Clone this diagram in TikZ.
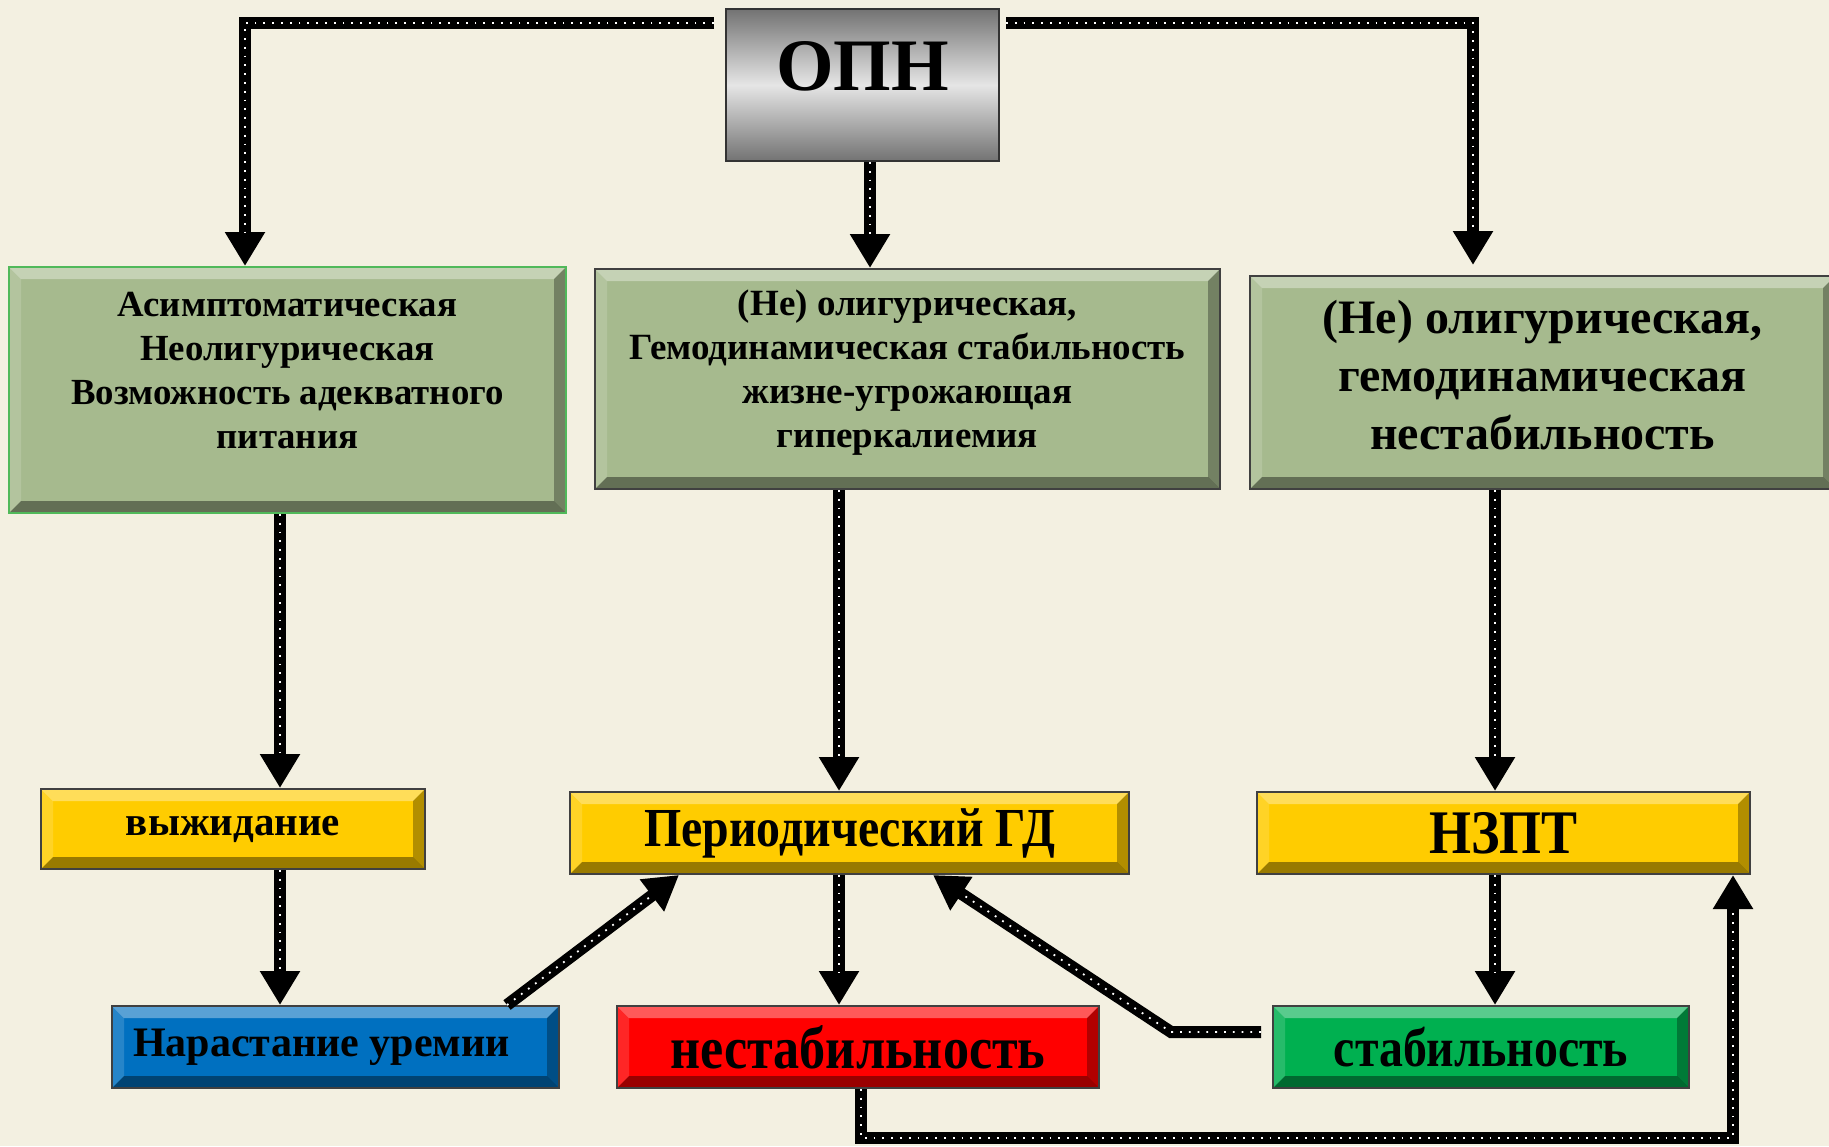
\documentclass[tikz,border=0pt]{standalone}
\usepackage{fontspec}
\setmainfont{Liberation Serif}
\newfontfamily\narrowfont[FakeStretch=0.87]{Liberation Serif}
\usetikzlibrary{arrows.meta,positioning}

\definecolor{bgcream}{RGB}{243,240,225}
\definecolor{boxgreen}{RGB}{166,186,142}
\definecolor{edgegreen}{RGB}{80,185,90}
\definecolor{boxyellow}{RGB}{255,204,0}
\definecolor{boxblue}{RGB}{0,112,192}
\definecolor{boxred}{RGB}{255,0,0}
\definecolor{boxlime}{RGB}{0,176,80}

\begin{document}
\begin{tikzpicture}[x=0.5pt,y=0.5pt]
\tikzstyle{every node}+=[inner sep=2pt]
\tikzstyle{bevel}=[path picture={
  \path (path picture bounding box.south west) coordinate (bsw)
        (path picture bounding box.north east) coordinate (bne)
        (path picture bounding box.north west) coordinate (bnw)
        (path picture bounding box.south east) coordinate (bse);
  \fill [white,opacity=0.35] (bnw) -- (bne) -- ([shift={(-6pt,-6pt)}]bne) -- ([shift={(6pt,-6pt)}]bnw) -- cycle;
  \fill [white,opacity=0.15] (bnw) -- ([shift={(6pt,-6pt)}]bnw) -- ([shift={(6pt,6pt)}]bsw) -- (bsw) -- cycle;
  \fill [black,opacity=0.4] (bsw) -- ([shift={(6pt,6pt)}]bsw) -- ([shift={(-6pt,6pt)}]bse) -- (bse) -- cycle;
  \fill [black,opacity=0.3] (bse) -- ([shift={(-6pt,6pt)}]bse) -- ([shift={(-6pt,-6pt)}]bne) -- (bne) -- cycle;
}]
\tikzstyle{box}=[draw=black!75, line width=1pt, bevel, align=center, font=\bfseries]
\tikzstyle{bigbox}=[box, fill=boxgreen, font=\bfseries\fontsize{18.4}{22}\selectfont]
\tikzstyle{smallbox}=[box, minimum height=41pt]
\tikzstyle{line}=[line width=6pt, line join=miter,
  postaction={draw=white, line width=0.9pt, dash pattern=on 0.9pt off 3.5pt, -, shorten >=16pt}]
\tikzstyle{conn}=[line, -{Triangle[width=19pt,length=17pt]}]
\fill [bgcream] (0,0) rectangle (1829,-1146);
\useasboundingbox (0,0) rectangle (1829,-1146);

\node [draw=black!80, line width=1pt, top color=black!55, bottom color=black!55, middle color=black!10,
  minimum width=136.5pt, minimum height=76pt, font=\bfseries\fontsize{37}{40}\selectfont] (opn) at (862.5,-85) {ОПН\rule[-19pt]{0pt}{19pt}};

\node [bigbox, draw=edgegreen, minimum width=278.5pt, minimum height=123pt] (asym) at (287.5,-390)
  {Асимптоматическая\\Неолигурическая\\Возможность адекватного\\питания\rule[-20pt]{0pt}{20pt}};
\node [bigbox, minimum width=312.5pt, minimum height=110pt, font=\bfseries\fontsize{18.5}{22}\selectfont] (olig) at (907.5,-379)
  {(Не) олигурическая,\\Гемодинамическая стабильность\\жизне-угрожающая\\гиперкалиемия\rule[-10pt]{0pt}{10pt}};
\node [bigbox, minimum width=292.5pt, minimum height=106.5pt, font=\bfseries\fontsize{24}{29}\selectfont] (unstab) at (1542.5,-382.5)
  {(Не) олигурическая,\\гемодинамическая\\нестабильность\rule[-8pt]{0pt}{8pt}};

\node [smallbox, fill=boxyellow, minimum width=192pt, minimum height=40pt, font=\bfseries\fontsize{20.5}{22}\selectfont] (wait) at (233,-829) {выжидание};
\node [smallbox, fill=boxyellow, minimum width=279.5pt, font=\narrowfont\bfseries\fontsize{27.5}{30}\selectfont] (pgd) at (849.5,-833) {Периодический ГД};
\node [smallbox, fill=boxyellow, minimum width=246.5pt, font=\narrowfont\bfseries\fontsize{31}{33}\selectfont] (nzpt) at (1503.5,-833) {НЗПТ};
\node [smallbox, fill=boxblue, minimum width=223.5pt, font=\bfseries\fontsize{21}{23}\selectfont] (urem) at (335.5,-1047) {Нарастание уремии\hspace{14pt}};
\node [smallbox, fill=boxred, minimum width=241pt, font=\narrowfont\bfseries\fontsize{30}{32}\selectfont] (nestab) at (858,-1047) {нестабильность};
\node [smallbox, fill=boxlime, minimum width=208pt, font=\narrowfont\bfseries\fontsize{27.5}{30}\selectfont] (stab) at (1481,-1047) {стабильность};

\draw [conn] ([xshift=-5.5pt,yshift=-7.5pt]opn.north west) -| ([xshift=-21.25pt]asym.north);
\draw [conn] ([xshift=3pt,yshift=-7.5pt]opn.north east) -| ([xshift=-34.75pt,yshift=5pt]unstab.north);
\draw [conn] ([xshift=3.75pt]opn.south) -- ([xshift=3.75pt]opn.south |- olig.north);
\draw [conn] ([xshift=-3.75pt]asym.south) -- ([xshift=-3.75pt]asym.south |- wait.north);
\draw [conn] ([xshift=23.5pt]wait.south) -- ([xshift=23.5pt]wait.south |- urem.north);
\draw [conn] ([xshift=-34.25pt]olig.south) -- ([xshift=-34.25pt]olig.south |- pgd.north);
\draw [conn] ([xshift=-5.25pt]pgd.south) -- ([xshift=-5.25pt]pgd.south |- nestab.north);
\draw [conn] ([xshift=85.75pt]urem.north) -- ([xshift=-85.25pt]pgd.south);
\draw [conn] ([xshift=-5.5pt,yshift=7.5pt]stab.west) -- ++(-45pt,0) -- ([xshift=41.75pt]pgd.south);
\draw [conn] ([xshift=1.5pt]nestab.south) -- ++(0,-24.5pt) -| ([xshift=114.75pt]nzpt.south);
\draw [conn] ([xshift=-23.75pt]unstab.south) -- ([xshift=-23.75pt]unstab.south |- nzpt.north);
\draw [conn] ([xshift=-4.25pt]nzpt.south) -- ([xshift=-4.25pt]nzpt.south |- stab.north);
\end{tikzpicture}
\end{document}
